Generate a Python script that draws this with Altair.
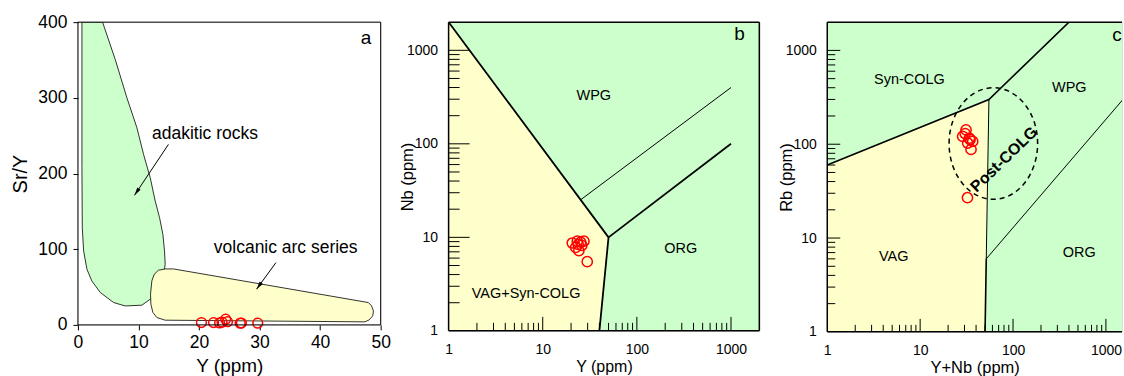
import altair as alt
import pandas as pd

FONT = "Liberation Sans"
GREEN = "#ccffcc"
YELLOW = "#ffffcc"
RED = "#ff0000"

# ---------------- Panel a : Sr/Y vs Y ----------------
adakite_x = [0.66, 4.07, 6.16, 8.09, 9.74, 10.84, 11.94, 12.76, 13.48, 14.03, 14.3, 14.41,
             14.25, 13.0, 12.3, 11.94, 10.56, 7.8, 5.9, 3.7, 2.3, 1.49, 0.94, 0.72, 0.66]
adakite_y = [400, 400, 350.7, 300, 260.5, 225.3, 194.5, 163.7, 141.7, 119.7, 97.7, 80,
             71.3, 50, 35, 33.9, 26, 25, 29.5, 42.7, 58, 73.5, 97.7, 128.5, 207.7]
arc_x = [12.21, 12.6, 13.3, 14.4, 15.8, 47.97, 48.5, 48.8, 48.7, 48.1, 47.4, 14.4, 13.04,
         12.38, 12.05, 11.99]
arc_y = [58.1, 66.9, 72.2, 73.9, 73.9, 29.5, 25.1, 18.5, 11.9, 6.6, 4.0, 6.2, 9.7, 16.3,
         27.3, 40.5]
a_sample_Y = [20.4, 22.4, 23.4, 23.8, 24.4, 24.7, 26.8, 27.0, 29.7]
a_sample_SrY = [3.1, 3.0, 2.6, 3.5, 7.5, 4.2, 2.2, 2.4, 2.2]
a_label_text = ["adakitic rocks", "volcanic arc series"]
a_label_x = [12.25, 22.45]
a_label_y = [251.7, 102]
a_arrow_x0 = [14.95, 32.7]
a_arrow_y0 = [238.5, 82.2]
a_arrow_x1 = [9.34, 29.5]
a_arrow_y1 = [171.2, 47.1]
a_arrow_angle = [214, 216]
a_xticks = [0, 10, 20, 30, 40, 50]
a_yticks = [0, 100, 200, 300, 400]

# ---------------- Panel b : Nb vs Y ----------------
b_vag_x = [1, 1, 50, 40]
b_vag_y = [1, 2000, 10, 1]
b_thick_x = [1, 50, 40, 50, 1000]
b_thick_y = [2000, 10, 1, 10, 100]
b_thick_seg = [0, 0, 0, 1, 1]
b_thin_x = [25, 1000]
b_thin_y = [25, 400]
b_thin_seg = [0, 0]
b_sample_Y = [20.6, 22.4, 23.3, 24.2, 25.3, 27.4, 26.0, 23.8, 29.7]
b_sample_Nb = [8.7, 7.8, 9.1, 7.2, 8.9, 9.1, 8.2, 8.4, 5.5]
b_label_text = ["WPG", "ORG", "VAG+Syn-COLG"]
b_label_x = [34.9, 292, 6.65]
b_label_y = [324, 7.44, 2.45]

# ---------------- Panel c : Rb vs Y+Nb ----------------
c_vag_x = [1, 1, 55, 51.5, 50]
c_vag_y = [1, 60, 300, 6, 1]
c_thick_x = [1, 55, 400, 51.5, 50]
c_thick_y = [60, 300, 2000, 6, 1]
c_thick_seg = [0, 0, 0, 1, 1]
c_thin_x = [55, 51.5, 51.5, 2000]
c_thin_y = [300, 6, 6, 410]
c_thin_seg = [0, 0, 1, 1]
c_sample_YNb = [31.2, 28.7, 30.5, 33.9, 32.5, 36.8, 35.3, 34.5, 32.3]
c_sample_Rb = [142, 121, 130, 116, 103, 107, 88, 112, 26.9]
c_label_text = ["Syn-COLG", "WPG", "VAG", "ORG"]
c_label_x = [7.67, 403, 5.2, 516]
c_label_y = [483, 402, 6.3, 7.0]
c_post_x = [80]
c_post_y = [68.9]
c_ellipse_x = [61.4]
c_ellipse_y = [101.7]

log_labels = [1, 10, 100, 1000]
minor_ticks = [2, 3, 4, 5, 6, 7, 8, 9, 20, 30, 40, 50, 60, 70, 80, 90,
               200, 300, 400, 500, 600, 700, 800, 900]
major_ticks = [10, 100, 1000]


def pts(xs, ys, **extra):
    d = {"x": xs, "y": ys, "i": list(range(len(xs)))}
    d.update(extra)
    return pd.DataFrame(d)


def blank():
    return alt.Chart(pd.DataFrame({"k": [0]}))


def frame(w, h, sw, right=True):
    parts = [
        blank().mark_rule(color="black", strokeWidth=sw).encode(
            x=alt.value(0), x2=alt.value(w), y=alt.value(0)),
        blank().mark_rule(color="black", strokeWidth=sw).encode(
            x=alt.value(0), x2=alt.value(w), y=alt.value(h)),
        blank().mark_rule(color="black", strokeWidth=sw).encode(
            x=alt.value(0), y=alt.value(0), y2=alt.value(h)),
    ]
    if right:
        parts.append(blank().mark_rule(color="black", strokeWidth=sw).encode(
            x=alt.value(w), y=alt.value(0), y2=alt.value(h)))
    return parts


def bg(w, h, color):
    return blank().mark_rect(color=color).encode(
        x=alt.value(0), x2=alt.value(w), y=alt.value(0), y2=alt.value(h))


def log_axis(title, orient_x, pad, tpos, tsize):
    kw = dict(values=log_labels, format="d", title=title, grid=False, domain=False,
              ticks=False, labelFlush=False, labelFont=FONT, labelFontSize=14,
              labelColor="black", labelPadding=pad, titleFont=FONT, titleFontSize=tsize,
              titleFontWeight="normal", titleColor="black", titleBaseline="middle")
    if orient_x:
        kw["titleY"] = tpos
    else:
        kw["titleX"] = tpos
    return alt.Axis(**kw)


class Panel:
    def __init__(self, sx, sy, ax, ay):
        self.sx, self.sy, self.ax, self.ay = sx, sy, ax, ay

    def X(self, field="x:Q"):
        return alt.X(field, scale=self.sx, axis=self.ax)

    def Y(self, field="y:Q"):
        return alt.Y(field, scale=self.sy, axis=self.ay)

    def inward_ticks(self, w, h, xmaj, xmin, ymaj, ymin):
        layers = []
        for vals, L in ((minor_ticks, xmin), (major_ticks, xmaj)):
            layers.append(alt.Chart(pd.DataFrame({"x": vals})).mark_rule(
                color="black", strokeWidth=1, clip=True).encode(
                x=self.X(), y=alt.value(h), y2=alt.value(h - L)))
        for vals, L in ((minor_ticks, ymin), (major_ticks, ymaj)):
            layers.append(alt.Chart(pd.DataFrame({"y": vals})).mark_rule(
                color="black", strokeWidth=1, clip=True).encode(
                y=self.Y(), x=alt.value(0), x2=alt.value(L)))
        return layers


# ================= Panel a =================
WA, HA = 303, 303
PA = Panel(
    alt.Scale(domain=[0, 50], nice=False, zero=False),
    alt.Scale(domain=[0, 400], nice=False, zero=False),
    alt.Axis(values=a_xticks, title="Y (ppm)", grid=False, domain=False,
             ticks=True, tickSize=5, tickColor="black", labelFlush=False,
             labelFont=FONT, labelFontSize=17.5, labelColor="black", labelPadding=4,
             titleFont=FONT, titleFontSize=19, titleFontWeight="normal",
             titleColor="black", titleY=41, titleBaseline="middle"),
    alt.Axis(values=a_yticks, title="Sr/Y", grid=False, domain=False,
             ticks=True, tickSize=5, tickColor="black", labelFlush=False,
             labelFont=FONT, labelFontSize=17.5, labelColor="black", labelPadding=6,
             titleFont=FONT, titleFontSize=20, titleFontWeight="normal",
             titleColor="black", titleX=-57, titleBaseline="middle"),
)

a_layers = [
    alt.Chart(pts(adakite_x, adakite_y)).mark_line(
        interpolate="linear-closed", fill=GREEN, stroke="black", strokeWidth=0.8,
        clip=True).encode(x=PA.X(), y=PA.Y(), order="i:Q"),
    alt.Chart(pts(arc_x, arc_y)).mark_line(
        interpolate="linear-closed", fill=YELLOW, stroke="black", strokeWidth=0.8,
        clip=True).encode(x=PA.X(), y=PA.Y(), order="i:Q"),
    alt.Chart(pd.DataFrame({"x": a_arrow_x0, "y": a_arrow_y0,
                            "x2": a_arrow_x1, "y2": a_arrow_y1})).mark_rule(
        color="black", strokeWidth=1).encode(
        x=PA.X(), y=PA.Y(), x2="x2:Q", y2="y2:Q"),
    alt.Chart(pd.DataFrame({"x": a_arrow_x1, "y": a_arrow_y1,
                            "ang": a_arrow_angle})).mark_point(
        shape="M0,0 L0.5,2 L-0.5,2 Z", filled=True, color="black", size=64,
        opacity=1).encode(x=PA.X(), y=PA.Y(), angle=alt.Angle("ang:Q", scale=None)),
    alt.Chart(pd.DataFrame({"x": a_label_x, "y": a_label_y, "t": a_label_text})).mark_text(
        align="left", baseline="middle", font=FONT, fontSize=17.5, color="black").encode(
        x=PA.X(), y=PA.Y(), text="t:N"),
    alt.Chart(pd.DataFrame({"x": [47.6], "y": [379], "t": ["a"]})).mark_text(
        align="center", baseline="middle", font=FONT, fontSize=19, color="black").encode(
        x=PA.X(), y=PA.Y(), text="t:N"),
    alt.Chart(pd.DataFrame({"x": a_sample_Y, "y": a_sample_SrY})).mark_point(
        shape="circle", filled=False, color=RED, size=95, strokeWidth=1.5,
        opacity=1).encode(x=PA.X(), y=PA.Y()),
] + frame(WA, HA, 1)

panel_a = alt.layer(*a_layers).properties(width=WA, height=HA)


# ================= Panel b =================
WB, HB = 311, 309
PB = Panel(
    alt.Scale(type="log", domain=[1, 2000], nice=False),
    alt.Scale(type="log", domain=[1, 2000], nice=False),
    log_axis("Y (ppm)", True, 12, 35.5, 16),
    log_axis("Nb (ppm)", False, 11, -41, 16.5),
)

b_layers = [
    bg(WB, HB, GREEN),
    alt.Chart(pts(b_vag_x, b_vag_y)).mark_line(
        interpolate="linear-closed", fill=YELLOW, strokeWidth=0, clip=True).encode(
        x=PB.X(), y=PB.Y(), order="i:Q"),
    alt.Chart(pts(b_thick_x, b_thick_y, seg=b_thick_seg)).mark_line(
        color="black", strokeWidth=1.8, clip=True).encode(
        x=PB.X(), y=PB.Y(), order="i:Q", detail="seg:N"),
    alt.Chart(pts(b_thin_x, b_thin_y, seg=b_thin_seg)).mark_line(
        color="black", strokeWidth=1, clip=True).encode(
        x=PB.X(), y=PB.Y(), order="i:Q", detail="seg:N"),
] + PB.inward_ticks(WB, HB, 14, 8, 21, 11) + [
    alt.Chart(pd.DataFrame({"x": b_label_x, "y": b_label_y, "t": b_label_text})).mark_text(
        align="center", baseline="middle", font=FONT, fontSize=14.5, color="black").encode(
        x=PB.X(), y=PB.Y(), text="t:N"),
    alt.Chart(pd.DataFrame({"x": [1231], "y": [1500], "t": ["b"]})).mark_text(
        align="center", baseline="middle", font=FONT, fontSize=19, color="black").encode(
        x=PB.X(), y=PB.Y(), text="t:N"),
    alt.Chart(pd.DataFrame({"x": b_sample_Y, "y": b_sample_Nb})).mark_point(
        shape="circle", filled=False, color=RED, size=105, strokeWidth=1.5,
        opacity=1).encode(x=PB.X(), y=PB.Y()),
] + frame(WB, HB, 1.5)

panel_b = alt.layer(*b_layers).properties(width=WB, height=HB)


# ================= Panel c =================
WC, HC = 295, 310
PC = Panel(
    alt.Scale(type="log", domain=[1, 1490], nice=False),
    alt.Scale(type="log", domain=[1, 2000], nice=False),
    log_axis("Y+Nb (ppm)", True, 12, 35.5, 16.5),
    log_axis("Rb (ppm)", False, 11, -40.5, 16.5),
)

c_layers = [
    bg(WC, HC, GREEN),
    alt.Chart(pts(c_vag_x, c_vag_y)).mark_line(
        interpolate="linear-closed", fill=YELLOW, strokeWidth=0, clip=True).encode(
        x=PC.X(), y=PC.Y(), order="i:Q"),
    alt.Chart(pts(c_thick_x, c_thick_y, seg=c_thick_seg)).mark_line(
        color="black", strokeWidth=1.6, clip=True).encode(
        x=PC.X(), y=PC.Y(), order="i:Q", detail="seg:N"),
    alt.Chart(pts(c_thin_x, c_thin_y, seg=c_thin_seg)).mark_line(
        color="black", strokeWidth=1, clip=True).encode(
        x=PC.X(), y=PC.Y(), order="i:Q", detail="seg:N"),
] + PC.inward_ticks(WC, HC, 13, 7, 13, 8) + [
    alt.Chart(pd.DataFrame({"x": c_label_x, "y": c_label_y, "t": c_label_text})).mark_text(
        align="center", baseline="middle", font=FONT, fontSize=14.5, color="black").encode(
        x=PC.X(), y=PC.Y(), text="t:N"),
    alt.Chart(pd.DataFrame({"x": [1313], "y": [1445], "t": ["c"]})).mark_text(
        align="center", baseline="middle", font=FONT, fontSize=19, color="black").encode(
        x=PC.X(), y=PC.Y(), text="t:N"),
    alt.Chart(pd.DataFrame({"x": c_ellipse_x, "y": c_ellipse_y})).mark_point(
        shape="M-1,0 A1,1.26 0 1,1 1,0 A1,1.26 0 1,1 -1,0 Z", filled=False,
        color="black", size=7850, strokeWidth=1.5, strokeDash=[5, 4],
        opacity=1).encode(x=PC.X(), y=PC.Y()),
    alt.Chart(pd.DataFrame({"x": c_post_x, "y": c_post_y, "t": ["Post-COLG"]})).mark_text(
        align="center", baseline="middle", font=FONT, fontSize=16, fontWeight="bold",
        angle=316, color="black").encode(x=PC.X(), y=PC.Y(), text="t:N"),
    alt.Chart(pd.DataFrame({"x": c_sample_YNb, "y": c_sample_Rb})).mark_point(
        shape="circle", filled=False, color=RED, size=105, strokeWidth=1.5,
        opacity=1).encode(x=PC.X(), y=PC.Y()),
] + frame(WC, HC, 1.5, right=False)

panel_c = alt.layer(*c_layers).properties(width=WC, height=HC)

chart = alt.hconcat(panel_a, panel_b, panel_c, spacing=68, bounds="flush").properties(
    padding={"left": 10, "top": 12, "right": 0, "bottom": 0}
).configure_view(strokeWidth=0).configure(background="white")

chart.save("out.html", embed_options={"renderer": "svg", "actions": False})
